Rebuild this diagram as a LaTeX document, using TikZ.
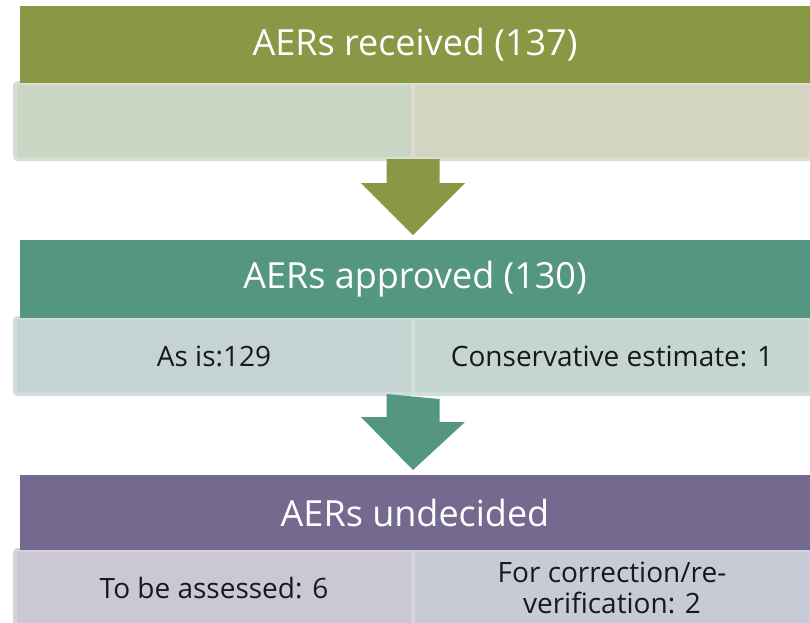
\documentclass[tikz,border=0pt]{standalone}
\usepackage{fontspec}
\setmainfont{Open Sans}
\usetikzlibrary{positioning}

\definecolor{recvhead}{RGB}{138,151,69}
\definecolor{recvleft}{RGB}{202,214,196}
\definecolor{recvright}{RGB}{211,213,192}
\definecolor{apprhead}{RGB}{84,150,130}
\definecolor{apprleft}{RGB}{197,212,211}
\definecolor{apprright}{RGB}{196,214,205}
\definecolor{undchead}{RGB}{116,106,143}
\definecolor{undcleft}{RGB}{203,199,212}
\definecolor{undcright}{RGB}{200,203,214}

\tikzset{
  headbox/.style={rectangle, inner sep=0pt, outer sep=0pt,
    minimum width=790pt, minimum height=#1, text=white,
    font=\fontsize{36}{36}\selectfont},
  cellbox/.style={rectangle, rounded corners=3pt, inner sep=0pt, outer sep=0pt,
    minimum width=398pt, minimum height=76pt, line width=4pt,
    text=black!90, align=center, font=\fontsize{28}{31}\selectfont},
}

\begin{document}
\begin{tikzpicture}[x=1pt, y=1pt]
    \useasboundingbox (0,0) rectangle (810,-622);
    \clip (0,0) rectangle (810,-622);

    % First stage: received
    \node[cellbox, fill=recvleft, draw=recvleft!80!white] (recvA) at (214,-121) {};
    \node[cellbox, fill=recvright, draw=recvright!80!white, right=0pt of recvA] (recvB) {};
    \node[headbox=77pt, fill=recvhead] (recv) at (415,-44.5) {AERs received (137)};

    % Second stage: approved
    \node[cellbox, fill=apprleft, draw=apprleft!80!white] (apprA) at (214,-356) {As is:129};
    \node[cellbox, fill=apprright, draw=apprright!80!white, right=0pt of apprA] (apprB) {Conservative estimate: 1};
    \node[headbox=78pt, fill=apprhead] (appr) at (415,-279) {AERs approved (130)};

    % Third stage: undecided
    \node[cellbox, fill=undcleft, draw=undcleft!80!white] (undcA) at (214,-588) {To be assessed: 6};
    \node[cellbox, fill=undcright, draw=undcright!80!white, right=0pt of undcA] (undcB) {For correction/re-\\verification: 2};
    \node[headbox=75pt, fill=undchead] (undc) at (415,-512.5) {AERs undecided};

    % Block arrows between the stages
    \path (recvA.south east) coordinate (a1top)
          (appr.north -| recvA.south east) coordinate (a1tip);
    \fill[recvhead] (a1top) ++(-26.5,0) -- ++(0,-24) -- ++(-25.5,0)
        -- ([yshift=5pt]a1tip) -- ++(52,52) -- ++(-25.5,0) -- ++(0,24) -- cycle;

    \path (apprA.south east) coordinate (a2top)
          (undc.north -| apprA.south east) coordinate (a2tip);
    \fill[apprhead] (a2top) ++(-26.5,0) -- ++(0,-23) -- ++(-25.5,0)
        -- ([yshift=5pt]a2tip) -- ++(52,48) -- ++(-25.5,0) -- ++(0,23) -- cycle;
\end{tikzpicture}
\end{document}
